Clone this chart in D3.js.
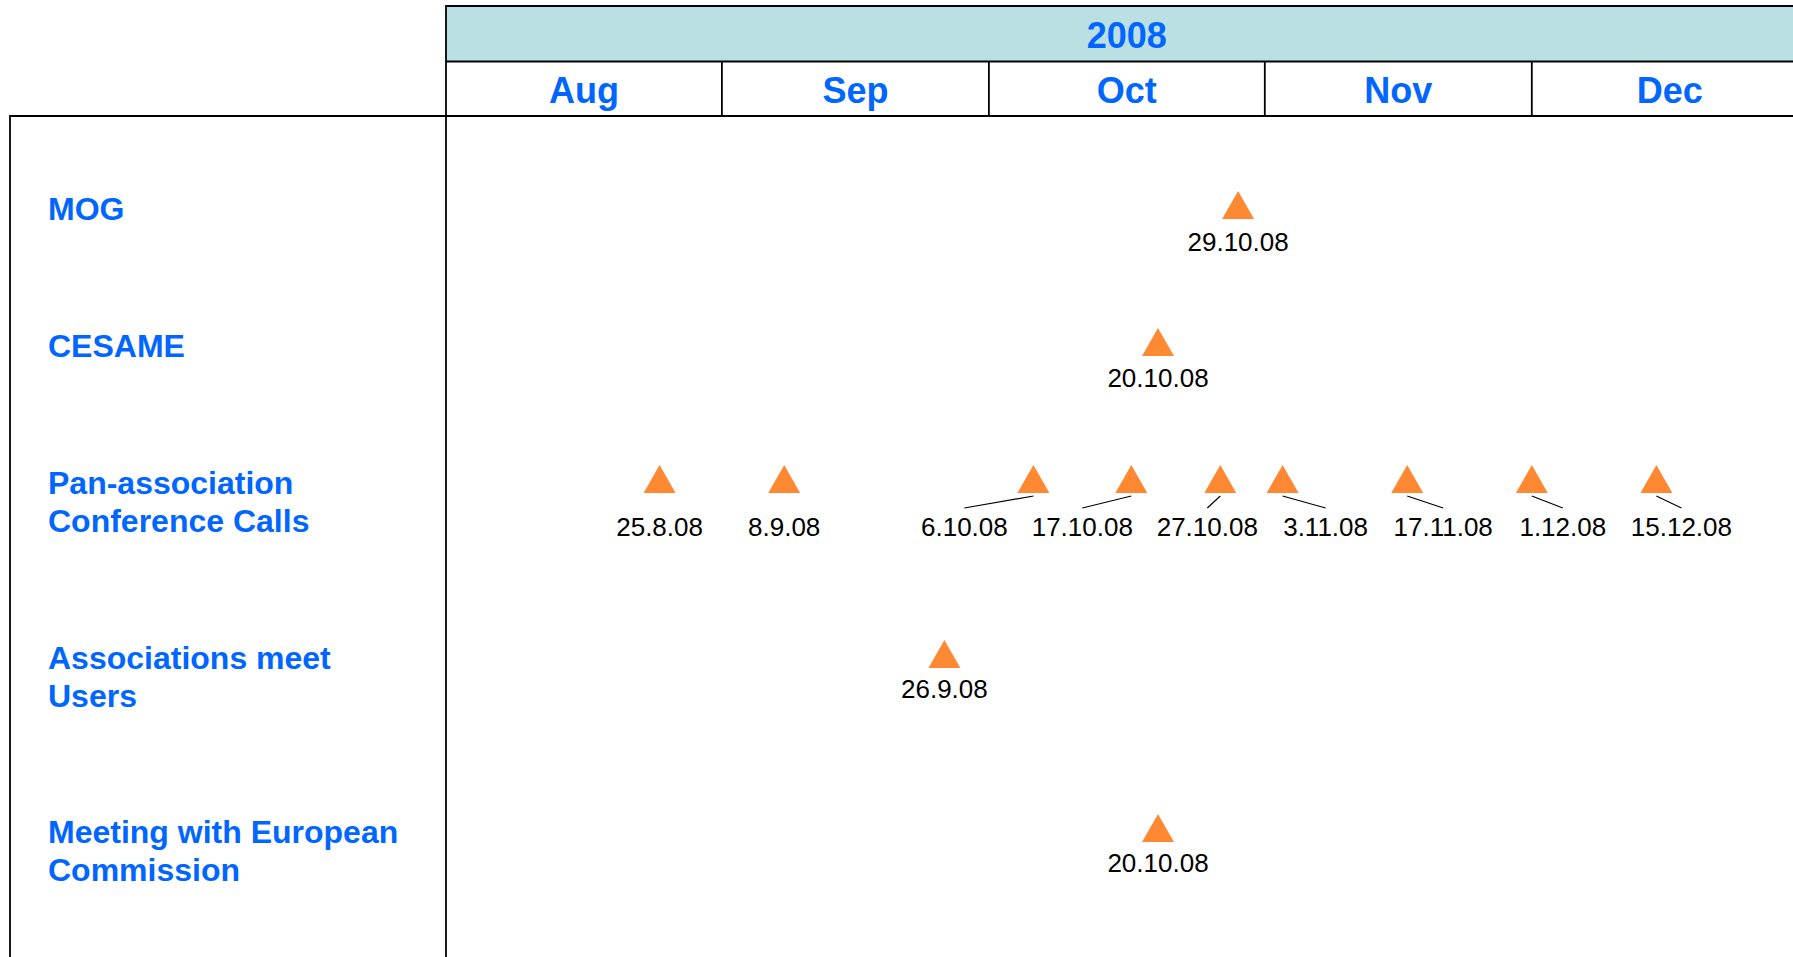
<!DOCTYPE html>
<html>
<head>
<meta charset="utf-8">
<script src="https://cdn.jsdelivr.net/npm/d3@7"></script>
<style>
  html, body { margin: 0; padding: 0; background: #fff; }
  svg { display: block; }
</style>
</head>
<body>
<svg id="chart" width="1793" height="957"></svg>
<script>
// ---------- data ----------
const yearLabel = "2008";
const months = ["Aug", "Sep", "Oct", "Nov", "Dec"];
const monthIndex = [7, 8, 9, 10, 11]; // JS month numbers for the months above
const rowLabels = [
  ["MOG"],
  ["CESAME"],
  ["Pan-association", "Conference Calls"],
  ["Associations meet", "Users"],
  ["Meeting with European", "Commission"]
];
const eventRow = [0, 1, 2, 2, 2, 2, 2, 2, 2, 2, 2, 3, 4];
const eventDate = ["29.10.08", "20.10.08",
  "25.8.08", "8.9.08", "6.10.08", "17.10.08", "27.10.08", "3.11.08", "17.11.08", "1.12.08", "15.12.08",
  "26.9.08", "20.10.08"];

// ---------- layout (positions / styles only) ----------
const W = 1793, H = 957;
const left = 446, boxLeft = 10;
const yTop = 6, yMid = 61.5, yBot = 116;
const pxPerDay = 8.9;
const rowBaseline = [220, 357, 494, 669, 843];
const lineGap = 38;
const labelDrop = [32, 31, 43, 30, 30];         // date label baseline below triangle base
const labelShift = [0, 0, 0, 0, -69, -49, -13, 43, 36, 31, 25, 0, 0]; // label x offsets (callouts)
const blue = "#0066ff", orange = "#ff8833", band = "#bbe0e3";
const font = "'Liberation Sans', Arial, Helvetica, sans-serif";
const triW = 32, triH = 28;

const parse = d3.timeParse("%d.%m.%y");
const start = new Date(2008, 7, 1), end = new Date(2009, 0, 1);
const nDays = Math.round((end - start) / 864e5);
const x = d3.scaleTime().domain([start, end]).range([left, left + nDays * pxPerDay]);

const svg = d3.select("#chart");

// year band
svg.append("rect").attr("x", left).attr("y", yTop).attr("width", W - left + 20).attr("height", yMid - yTop)
  .attr("fill", band);

// grid lines
const g = svg.append("g").attr("stroke", "#000").attr("stroke-width", 1.8).attr("fill", "none");
g.append("line").attr("x1", left).attr("x2", W + 5).attr("y1", yTop).attr("y2", yTop);
g.append("line").attr("x1", left).attr("x2", W + 5).attr("y1", yMid).attr("y2", yMid);
g.append("line").attr("x1", boxLeft).attr("x2", W + 5).attr("y1", yBot).attr("y2", yBot);
g.append("line").attr("x1", left).attr("x2", left).attr("y1", yTop - 0.9).attr("y2", H + 5);
g.append("line").attr("x1", boxLeft).attr("x2", boxLeft).attr("y1", yBot - 0.9).attr("y2", H + 5);
monthIndex.slice(1).forEach(m => {
  const xx = x(new Date(2008, m, 1));
  g.append("line").attr("x1", xx).attr("x2", xx).attr("y1", yMid).attr("y2", yBot);
});

// year label
svg.append("text").attr("x", (x.range()[0] + x.range()[1]) / 2).attr("y", 48)
  .attr("text-anchor", "middle").attr("font-family", font).attr("font-weight", "bold")
  .attr("font-size", 36).attr("fill", blue).text(yearLabel);

// month labels
months.forEach((m, i) => {
  const a = x(new Date(2008, monthIndex[i], 1)), b = x(new Date(2008, monthIndex[i] + 1, 1));
  svg.append("text").attr("x", (a + b) / 2).attr("y", 103)
    .attr("text-anchor", "middle").attr("font-family", font).attr("font-weight", "bold")
    .attr("font-size", 36).attr("fill", blue).text(m);
});

// row labels
rowLabels.forEach((lines, r) => {
  const t = svg.append("text").attr("font-family", font).attr("font-weight", "bold")
    .attr("font-size", 32).attr("fill", blue);
  lines.forEach((ln, k) => {
    t.append("tspan").attr("x", 48).attr("y", rowBaseline[r] + k * lineGap).text(ln);
  });
});

// events
eventDate.forEach((ds, i) => {
  const r = eventRow[i];
  const cx = x(parse(ds));
  const base = rowBaseline[r] - 1;
  svg.append("path")
    .attr("d", `M${cx},${base - triH}L${cx + triW / 2},${base}L${cx - triW / 2},${base}Z`)
    .attr("fill", orange);
  const lx = cx + labelShift[i];
  if (labelShift[i] !== 0) {
    svg.append("line").attr("x1", cx).attr("y1", base + 3).attr("x2", lx).attr("y2", base + 15)
      .attr("stroke", "#000").attr("stroke-width", 1.2);
  }
  svg.append("text").attr("x", lx).attr("y", base + labelDrop[r])
    .attr("text-anchor", "middle").attr("font-family", font).attr("font-size", 26)
    .attr("fill", "#000").text(ds);
});
</script>
</body>
</html>
